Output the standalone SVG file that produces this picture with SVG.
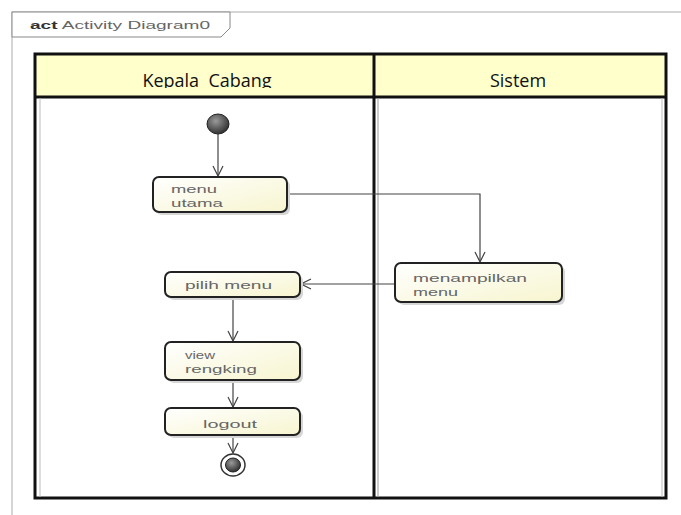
<svg xmlns="http://www.w3.org/2000/svg" width="681" height="515" viewBox="0 0 681 515">
<defs>
  <linearGradient id="nodeFill" x1="0" y1="0" x2="1" y2="1">
    <stop offset="0" stop-color="#ffffff"/>
    <stop offset="1" stop-color="#f7f5cf"/>
  </linearGradient>
  <radialGradient id="dot" cx="0.4" cy="0.35" r="0.7">
    <stop offset="0" stop-color="#9a9a9a"/>
    <stop offset="1" stop-color="#2a2a2a"/>
  </radialGradient>
  <marker id="arr" viewBox="0 0 12 12" refX="11" refY="6" markerWidth="12" markerHeight="12" markerUnits="userSpaceOnUse" orient="auto">
    <path d="M1,1 L11,6 L1,11" fill="none" stroke="#444" stroke-width="1.2"/>
  </marker>
  <clipPath id="hdrClip"><rect x="36" y="55" width="630" height="33"/></clipPath>
</defs>
<style>
  .node rect { fill: url(#nodeFill); stroke: #222; stroke-width: 2; }
  .lbl { font-family: "Liberation Sans", Arial, sans-serif; font-size: 11px; fill: #666; }
  .hdr { font-family: "Open Sans", "Liberation Sans", sans-serif; font-size: 18px; fill: #111; text-anchor: middle; }
  .conn path, .conn line { fill: none; stroke: #444; stroke-width: 1.2; }
</style>
<rect width="681" height="515" fill="#ffffff"/>
<!-- frame -->
<g id="frame">
  <path d="M12,515 L12,12 L681,12" fill="none" stroke="#c8c8c8" stroke-width="1.5"/>
  <path d="M12,12 L230,12 L230,28 L221,37 L12,37 Z" fill="#ffffff" stroke="#888" stroke-width="1"/>
  <text x="30" y="29" font-family="Liberation Sans, Arial, sans-serif" font-size="11.5" fill="#666" textLength="180" lengthAdjust="spacingAndGlyphs"><tspan font-weight="bold" fill="#333">act</tspan> Activity Diagram0</text>
</g>
<!-- swimlanes -->
<g id="lanes">
  <rect x="36" y="55" width="630" height="42" fill="#ffffcc"/>
  <rect x="35" y="54" width="631" height="444" fill="none" stroke="#111" stroke-width="3"/>
  <line x1="35" y1="97" x2="666" y2="97" stroke="#111" stroke-width="3"/>
  <line x1="374" y1="54" x2="374" y2="498" stroke="#111" stroke-width="3"/>
  <line x1="378" y1="98" x2="378" y2="497" stroke="#999" stroke-width="1"/>
  <line x1="40" y1="98" x2="40" y2="497" stroke="#bbb" stroke-width="1"/>
  <line x1="662" y1="98" x2="662" y2="497" stroke="#bbb" stroke-width="1"/>
  <g clip-path="url(#hdrClip)">
    <text class="hdr" x="207" y="87" xml:space="preserve">Kepala  Cabang</text>
    <text class="hdr" x="518" y="87">Sistem</text>
  </g>
</g>
<!-- connectors -->
<g id="connectors" class="conn">
  <line x1="218" y1="134" x2="218" y2="176" marker-end="url(#arr)"/>
  <path d="M287,194 L480,194 L480,262" marker-end="url(#arr)"/>
  <line x1="395" y1="284" x2="301" y2="284" marker-end="url(#arr)"/>
  <line x1="233" y1="297" x2="233" y2="341" marker-end="url(#arr)"/>
  <line x1="233" y1="380" x2="233" y2="407" marker-end="url(#arr)"/>
  <line x1="233" y1="435" x2="233" y2="453" marker-end="url(#arr)"/>
</g>
<!-- nodes -->
<g id="start">
  <ellipse cx="218" cy="124" rx="11" ry="10" fill="url(#dot)" stroke="#222" stroke-width="1"/>
</g>
<g id="menu-utama" class="node">
  <rect x="156" y="180" width="134" height="35" rx="6" style="fill:#d6d6d6;stroke:none"/>
  <rect x="153" y="177" width="134" height="35" rx="6"/>
  <text class="lbl" x="171" y="193" textLength="46" lengthAdjust="spacingAndGlyphs">menu</text>
  <text class="lbl" x="171" y="207" textLength="52" lengthAdjust="spacingAndGlyphs">utama</text>
</g>
<g id="menampilkan-menu" class="node">
  <rect x="398" y="266" width="167" height="39" rx="6" style="fill:#d6d6d6;stroke:none"/>
  <rect x="395" y="263" width="167" height="39" rx="6"/>
  <text class="lbl" x="413" y="282" textLength="114" lengthAdjust="spacingAndGlyphs">menampilkan</text>
  <text class="lbl" x="413" y="296" textLength="45" lengthAdjust="spacingAndGlyphs">menu</text>
</g>
<g id="pilih-menu" class="node">
  <rect x="168" y="275" width="135" height="25" rx="6" style="fill:#d6d6d6;stroke:none"/>
  <rect x="165" y="272" width="135" height="25" rx="6"/>
  <text class="lbl" x="185" y="289" textLength="87" lengthAdjust="spacingAndGlyphs">pilih menu</text>
</g>
<g id="view-rengking" class="node">
  <rect x="168" y="345" width="135" height="38" rx="6" style="fill:#d6d6d6;stroke:none"/>
  <rect x="165" y="342" width="135" height="38" rx="6"/>
  <text class="lbl" x="185" y="359" textLength="30" lengthAdjust="spacingAndGlyphs">view</text>
  <text class="lbl" x="185" y="373" textLength="72" lengthAdjust="spacingAndGlyphs">rengking</text>
</g>
<g id="logout" class="node">
  <rect x="168" y="411" width="135" height="27" rx="6" style="fill:#d6d6d6;stroke:none"/>
  <rect x="165" y="408" width="135" height="27" rx="6"/>
  <text class="lbl" x="203" y="428" textLength="54" lengthAdjust="spacingAndGlyphs">logout</text>
</g>
<g id="final">
  <ellipse cx="233" cy="465" rx="12" ry="11" fill="#ffffff" stroke="#333" stroke-width="1.5"/>
  <ellipse cx="233" cy="465" rx="7.5" ry="7" fill="url(#dot)" stroke="#222" stroke-width="1"/>
</g>
</svg>
